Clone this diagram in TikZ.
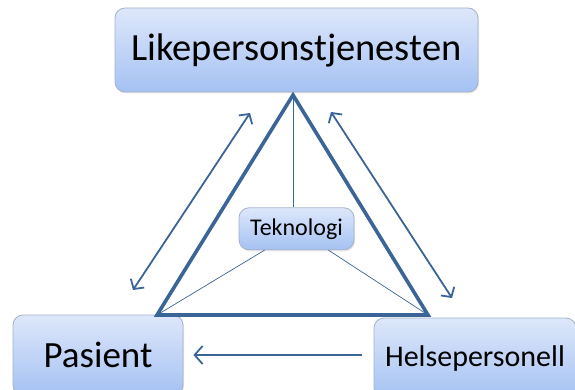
\documentclass[tikz,border=0pt]{standalone}
\usepackage{fontspec}
\setmainfont{Carlito}
\usetikzlibrary{positioning, arrows.meta, shadows}

\definecolor{boxtop}{HTML}{DDE7FA}
\definecolor{boxbot}{HTML}{A5C2F3}
\definecolor{boxedge}{HTML}{A3B2CA}
\definecolor{linkblue}{HTML}{3B6597}

\begin{document}
\begin{tikzpicture}[
      x=1pt, y=-1pt,
      actor/.style={rectangle, draw=boxedge, line width=0.8pt, rounded corners=10pt,
        top color=boxtop, bottom color=boxbot, align=center, inner sep=0pt,
        drop shadow={opacity=0.2, shadow xshift=1pt, shadow yshift=-1.5pt}},
      frame/.style={draw=linkblue, line width=3.6pt, line join=miter},
      spoke/.style={draw=linkblue, line width=0.7pt},
      arrow/.style={linkblue, line width=1.8pt, {Straight Barb[length=7pt, width=16pt]}-{Straight Barb[length=7pt, width=16pt]}},
      single/.style={linkblue, line width=1.8pt, -{Straight Barb[length=8pt, width=18pt]}}
    ]
    \useasboundingbox (0,0) rectangle (575,390);

    \node[actor, minimum width=363pt, minimum height=84pt, font=\fontsize{38.5}{42}\selectfont]
      (like) at (296.5,50) {Likepersonstjenesten};
    \node[actor, below=115pt of like, minimum width=115pt, minimum height=42pt,
      font=\fontsize{24}{26}\selectfont] (tek) {Teknologi};
    \node[actor, minimum width=170pt, minimum height=80pt, font=\fontsize{37}{40}\selectfont]
      (pas) at (98,355) {Pasient};
    \node[actor, minimum width=202pt, minimum height=80pt, font=\fontsize{30}{32}\selectfont]
      (helse) at (475,358) {Helsepersonell};

    % triangle corners and arrow ends
    \coordinate (apex) at (293,95);
    \coordinate (cl) at (157,315);
    \coordinate (cr) at (428,315);
    \coordinate (la) at (133,290);
    \coordinate (lb) at (250,113);
    \coordinate (ra) at (331,112);
    \coordinate (rb) at (452,298);

    \draw[spoke] (apex) -- (tek.north -| apex);
    \draw[spoke] ([xshift=-32pt]tek.south) -- (cl);
    \draw[spoke] ([xshift=32pt]tek.south) -- (cr);
    \draw[frame] (apex) -- (cl) -- (cr) -- cycle;

    \draw[arrow] (la) -- (lb);
    \draw[arrow] (ra) -- (rb);
    \draw[single, shorten <=12pt, shorten >=10pt] (helse.west |- 0,355) -- (pas.east |- 0,355);
  \end{tikzpicture}
\end{document}
